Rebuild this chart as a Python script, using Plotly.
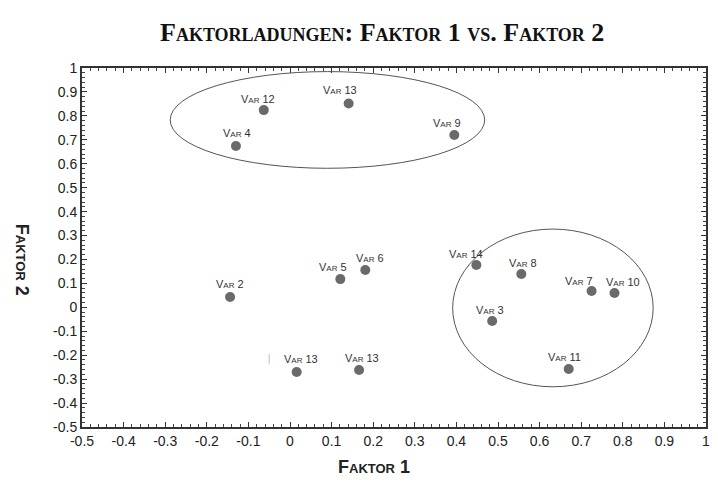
import plotly.graph_objects as go

# Factor loadings (Faktor 1, Faktor 2) per variable
labels = ["Var 12", "Var 13", "Var 4", "Var 9", "Var 2", "Var 5", "Var 6",
          "Var 13", "Var 13", "Var 14", "Var 8", "Var 7", "Var 10", "Var 3", "Var 11"]
faktor1 = [-0.063, 0.141, -0.130, 0.395, -0.144, 0.121, 0.181,
           0.016, 0.166, 0.448, 0.556, 0.725, 0.780, 0.486, 0.670]
faktor2 = [0.824, 0.852, 0.674, 0.720, 0.043, 0.118, 0.156,
           -0.270, -0.262, 0.177, 0.139, 0.068, 0.060, -0.057, -0.258]

tick_vals = [-0.5, -0.4, -0.3, -0.2, -0.1, 0, 0.1, 0.2, 0.3, 0.4, 0.5, 0.6, 0.7, 0.8, 0.9, 1]
tick_text = ["-0.5", "-0.4", "-0.3", "-0.2", "-0.1", "0", "0.1", "0.2", "0.3", "0.4",
             "0.5", "0.6", "0.7", "0.8", "0.9", "1"]

# Cluster outlines (x0, x1, y0, y1) in loading units
cluster_top = (-0.288, 0.468, 0.581, 0.985)
cluster_right = (0.391, 0.873, -0.332, 0.327)

# Label placement relative to each marker, in pixels
label_dx = [-6, -9, 1, -7, 0, -7, 5, 4, 3, -10, 2, -13, 9, -2, -4]
label_dy = [11, 13, 13, 12, 13, 12, 12, 13, 12, 11, 11, 10, 11, 11, 12]

fig = go.Figure()
fig.add_trace(go.Scatter(
    x=faktor1, y=faktor2, mode="markers",
    marker=dict(size=10, color="#6a6a6a", line=dict(width=0)),
    hovertext=labels, hoverinfo="text+x+y", showlegend=False,
))

annotations = []
for lab, xv, yv, dx, dy in zip(labels, faktor1, faktor2, label_dx, label_dy):
    annotations.append(dict(
        x=xv, y=yv, xref="x", yref="y", text=lab, showarrow=False,
        xshift=dx, yshift=dy,
        font=dict(family="Liberation Sans", size=11, color="#333333", variant="small-caps"),
    ))

annotations.append(dict(
    x=0.5, y=1, xref="paper", yref="paper", xshift=-12, yshift=36,
    text="Faktorladungen: Faktor 1 vs. Faktor 2",
    showarrow=False, xanchor="center", yanchor="middle",
    font=dict(family="Liberation Serif", size=26, color="#111111", weight="bold", variant="small-caps"),
))
annotations.append(dict(
    x=-0.095, y=0.5, xref="paper", yref="paper", yshift=-12, text="Faktor 2", textangle=90,
    showarrow=False, xanchor="center", yanchor="middle",
    font=dict(family="Liberation Sans", size=18, color="#222222", weight="bold", variant="small-caps"),
))
annotations.append(dict(
    x=0.5, y=0, xref="paper", yref="paper", xshift=-20, yshift=-40, text="Faktor 1",
    showarrow=False, xanchor="center", yanchor="middle",
    font=dict(family="Liberation Sans", size=18, color="#222222", weight="bold", variant="small-caps"),
))

shapes = []
for (x0, x1, y0, y1) in (cluster_top, cluster_right):
    shapes.append(dict(type="circle", xref="x", yref="y", x0=x0, x1=x1, y0=y0, y1=y1,
                       line=dict(color="#555555", width=1)))
# faint stroke near the lower-left label
shapes.append(dict(type="line", xref="x", yref="y", x0=-0.050, x1=-0.050, y0=-0.235, y1=-0.195,
                   line=dict(color="#bbbbbb", width=1)))

axis_common = dict(
    tickmode="array", showgrid=False, zeroline=False,
    showline=True, linecolor="#333333", linewidth=2, mirror="ticks",
    ticks="inside", ticklen=5, tickcolor="#333333", tickwidth=1,
    tickfont=dict(family="Liberation Sans", size=14, color="#222222"),
    minor=dict(ticks="inside", ticklen=3, tickcolor="#444444", dtick=0.02, showgrid=False),
)

fig.update_layout(
    width=718, height=483,
    margin=dict(l=82, r=8, t=68, b=56),
    paper_bgcolor="white", plot_bgcolor="white",
    xaxis=dict(range=[-0.5, 1.0], tickvals=tick_vals, ticktext=tick_text, **axis_common),
    yaxis=dict(range=[-0.5, 1.0], tickvals=tick_vals, ticktext=tick_text, **axis_common),
    annotations=annotations, shapes=shapes,
)

fig.write_html("out.html")
